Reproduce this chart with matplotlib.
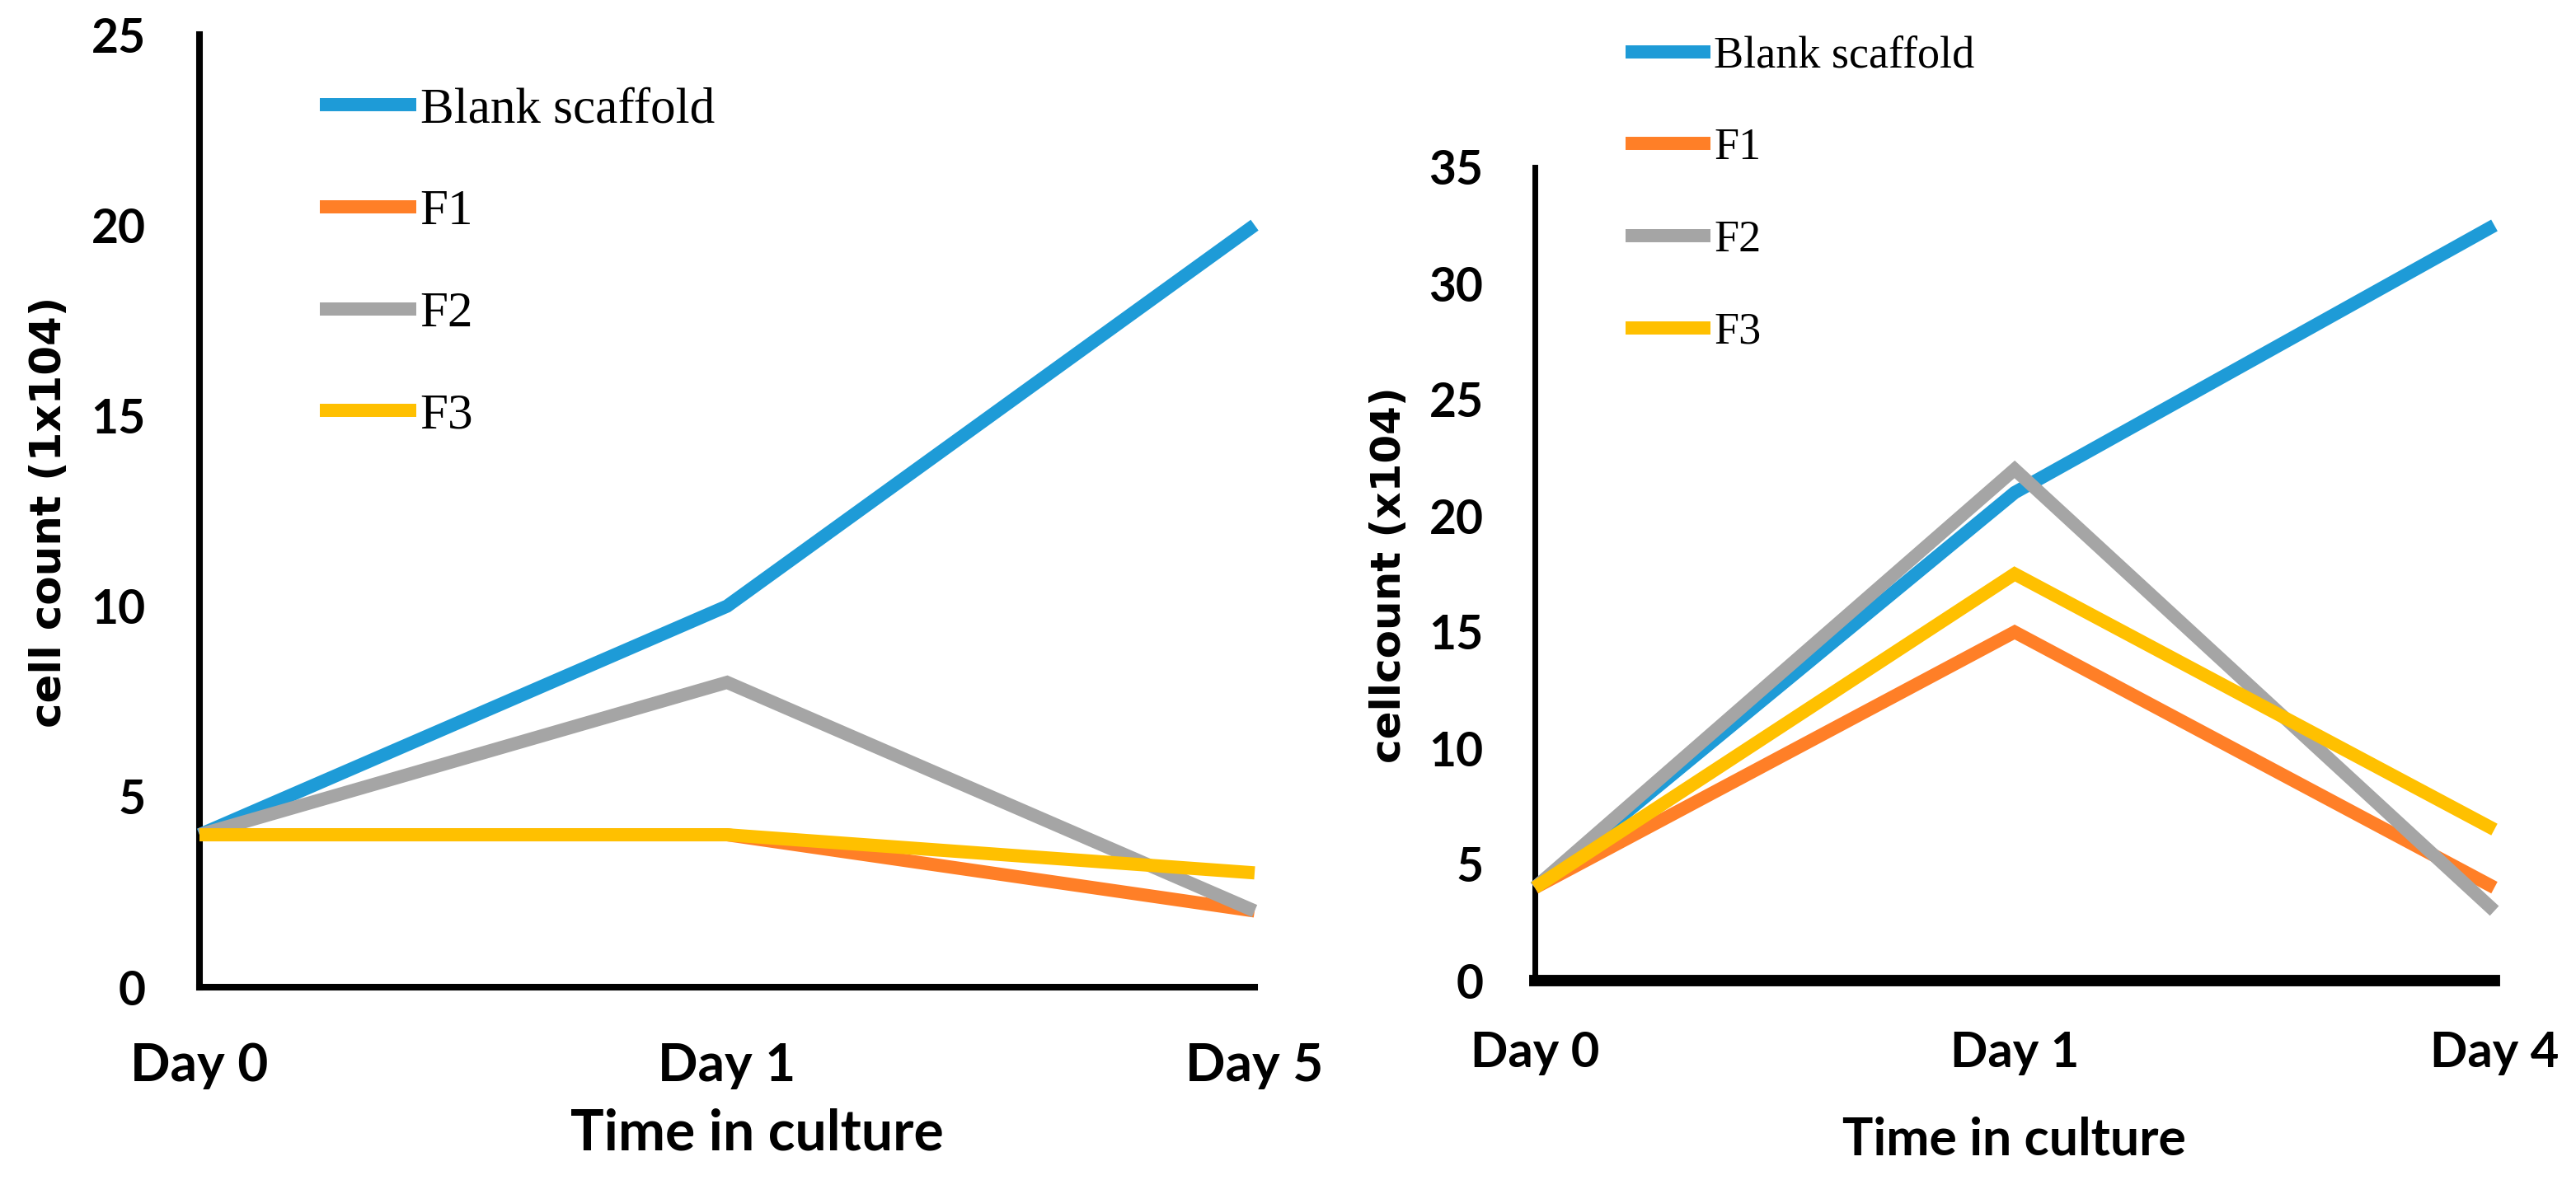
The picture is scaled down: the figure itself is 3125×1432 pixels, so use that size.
import matplotlib
matplotlib.use("Agg")
import matplotlib.pyplot as plt

# ---------------- data ----------------
series_names = ["Blank scaffold", "F1", "F2", "F3"]
colors = ["#1E9BD7", "#FF7F27", "#A5A5A5", "#FFC000"]

left_days = ["Day 0", "Day 1", "Day 5"]
left_blank = [4, 10, 20]
left_f1 = [4, 4, 2]
left_f2 = [4, 8, 2]
left_f3 = [4, 4, 3]
left_yticks = [0, 5, 10, 15, 20, 25]

right_days = ["Day 0", "Day 1", "Day 4"]
right_blank = [4, 21, 32.5]
right_f1 = [4, 15, 4]
right_f2 = [4, 22, 3]
right_f3 = [4, 17.5, 6.5]
right_yticks = [0, 5, 10, 15, 20, 25, 30, 35]

W, H = 3125, 1432
DPI = 100
fig = plt.figure(figsize=(W / DPI, H / DPI), dpi=DPI)
fig.patch.set_facecolor("white")

TICK_FONT = ["Lato", "DejaVu Sans"]
LEG_FONT = ["Liberation Serif", "DejaVu Serif"]


def px_axes(x0, x1, ytop, ybot):
    return fig.add_axes([x0 / W, (H - ybot) / H, (x1 - x0) / W, (ybot - ytop) / H])


def style(ax, days, yticks, ymax, ywidth, xwidth, xpad, ypad, xsize, ysize):
    ax.set_xlim(0, len(days) - 1)
    ax.set_ylim(0, ymax)
    for s in ["top", "right"]:
        ax.spines[s].set_visible(False)
    ax.spines["left"].set_linewidth(ywidth)
    ax.spines["bottom"].set_linewidth(xwidth)
    ax.spines["left"].set_capstyle("projecting")
    ax.spines["bottom"].set_capstyle("projecting")
    ax.set_xticks(range(len(days)))
    ax.set_xticklabels(days)
    ax.set_yticks(yticks)
    ax.set_yticklabels([str(v) for v in yticks])
    ax.tick_params(axis="x", length=0, pad=xpad)
    ax.tick_params(axis="y", length=0, pad=ypad)
    for lab in ax.get_xticklabels():
        lab.set_fontfamily(TICK_FONT)
        lab.set_fontweight("bold")
        lab.set_fontsize(xsize)
    for lab in ax.get_yticklabels():
        lab.set_fontfamily(TICK_FONT)
        lab.set_fontweight("bold")
        lab.set_fontsize(ysize)
    ax.patch.set_alpha(0)


LW = 11.5

# ---------------- left chart ----------------
axL = px_axes(242, 1522, 42, 1198)
xL = list(range(len(left_days)))
linesL = []
for vals, c, n in zip([left_blank, left_f1, left_f2, left_f3], colors, series_names):
    ln, = axL.plot(xL, vals, color=c, lw=LW, label=n, clip_on=False,
                   solid_joinstyle="miter", solid_capstyle="butt", zorder=3)
    linesL.append(ln)
style(axL, left_days, left_yticks, 25, 5.8, 5.8, 48, 47, 46, 41)

fig.text(60 / W, 1 - 621 / H, "cell count (1x104)", rotation=90, ha="center", va="center",
         fontsize=37, fontweight="bold", family=["DejaVu Sans"])
fig.text(918 / W, 1 - 1395 / H, "Time in culture", ha="center", va="baseline",
         fontsize=49, fontweight="bold", family=TICK_FONT)

legL = fig.legend(handles=linesL, loc="upper left", bbox_to_anchor=(388 / W, 1 - 106 / H),
                  frameon=False, borderpad=0, borderaxespad=0, handlelength=1.91,
                  handletextpad=0.08, labelspacing=1.11,
                  prop={"family": LEG_FONT, "size": 44})

# ---------------- right chart ----------------
axR = px_axes(1862, 3026, 203, 1190)
xR = list(range(len(right_days)))
linesR = []
for vals, c, n in zip([right_blank, right_f1, right_f2, right_f3], colors, series_names):
    ln, = axR.plot(xR, vals, color=c, lw=LW, label=n, clip_on=False,
                   solid_joinstyle="miter", solid_capstyle="butt", zorder=3)
    linesR.append(ln)
style(axR, right_days, right_yticks, 35, 5.0, 10.0, 43.6, 45, 43, 41)

fig.text(1685 / W, 1 - 698 / H, "cellcount (x104)", rotation=90, ha="center", va="center",
         fontsize=36, fontweight="bold", family=["DejaVu Sans"])
fig.text(2443 / W, 1 - 1402 / H, "Time in culture", ha="center", va="baseline",
         fontsize=45, fontweight="bold", family=TICK_FONT)

legR = fig.legend(handles=linesR, loc="upper left", bbox_to_anchor=(1972 / W, 1 - 43 / H),
                  frameon=False, borderpad=0, borderaxespad=0, handlelength=1.9,
                  handletextpad=0.08, labelspacing=1.13,
                  prop={"family": LEG_FONT, "size": 39})

fig.savefig("out.png", dpi=DPI, facecolor="white")
